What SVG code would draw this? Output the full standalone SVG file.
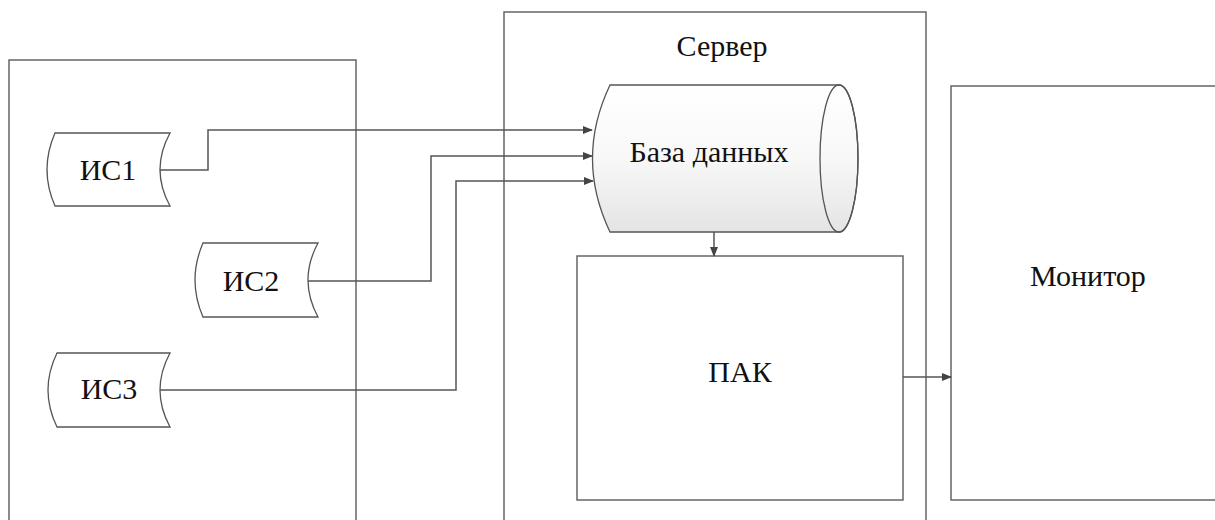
<svg xmlns="http://www.w3.org/2000/svg" width="1215" height="520" viewBox="0 0 1215 520">
<defs>
<linearGradient id="cyl" x1="0" y1="0" x2="0" y2="1">
<stop offset="0" stop-color="#ffffff"/>
<stop offset="0.5" stop-color="#f8f8f8"/>
<stop offset="1" stop-color="#e4e4e4"/>
</linearGradient>
<marker id="arr" markerWidth="10" markerHeight="8" refX="9" refY="4" orient="auto" markerUnits="userSpaceOnUse">
<path d="M0,0 L10,4 L0,8 Z" fill="#444"/>
</marker>
</defs>
<style>
.box{fill:#fff;stroke:#666;stroke-width:1.5}
.shape{fill:#fff;stroke:#555;stroke-width:1.3}
.t{font-size:30px;fill:#111;text-anchor:middle}
.c{fill:none;stroke:#555;stroke-width:1.5}
</style>
<rect width="1215" height="520" fill="#fff"/>
<g id="left-group">
<rect class="box" x="9" y="60" width="347" height="470"/>
</g>
<g id="server">
<rect class="box" x="504" y="12" width="422" height="520"/>
<text class="t" font-family="Liberation Serif, serif" x="722" y="56">Сервер</text>
</g>
<g id="monitor">
<rect class="box" x="951" y="86" width="280" height="414"/>
<text class="t" font-family="Liberation Serif, serif" x="1088" y="286">Монитор</text>
</g>
<g id="is1">
<path class="shape" d="M55,133 L170,133 Q150,169.5 170,206 L55,206 Q39,169.5 55,133 Z"/>
<text class="t" font-family="Liberation Serif, serif" x="108" y="180">ИС1</text>
</g>
<g id="is2">
<path class="shape" d="M203,243 L318,243 Q298,280 318,317 L203,317 Q187,280 203,243 Z"/>
<text class="t" font-family="Liberation Serif, serif" x="251" y="291">ИС2</text>
</g>
<g id="is3">
<path class="shape" d="M57,353 L170,353 Q150,390 170,427 L57,427 Q39,390 57,353 Z"/>
<text class="t" font-family="Liberation Serif, serif" x="109" y="399">ИС3</text>
</g>
<g id="database">
<path d="M610,85 L839,85 A19,73.5 0 0 1 839,232 L610,232 Q575,158.5 610,85 Z" fill="url(#cyl)" stroke="#555" stroke-width="1.3"/>
<ellipse cx="839" cy="158.5" rx="19" ry="73.5" fill="none" stroke="#555" stroke-width="1.3"/>
<text class="t" font-family="Liberation Serif, serif" x="709" y="162">База данных</text>
</g>
<g id="pak">
<rect class="box" x="577" y="256" width="326" height="244"/>
<text class="t" font-family="Liberation Serif, serif" x="740" y="382">ПАК</text>
</g>
<g id="connectors">
<polyline class="c" points="160,170 208,170 208,130 592,130" marker-end="url(#arr)"/>
<polyline class="c" points="308,281 431,281 431,156 592,156" marker-end="url(#arr)"/>
<polyline class="c" points="160,390 456,390 456,181 593,181" marker-end="url(#arr)"/>
<line class="c" x1="714" y1="232" x2="714" y2="256" marker-end="url(#arr)"/>
<line class="c" x1="903" y1="377" x2="951" y2="377" marker-end="url(#arr)"/>
</g>
</svg>
